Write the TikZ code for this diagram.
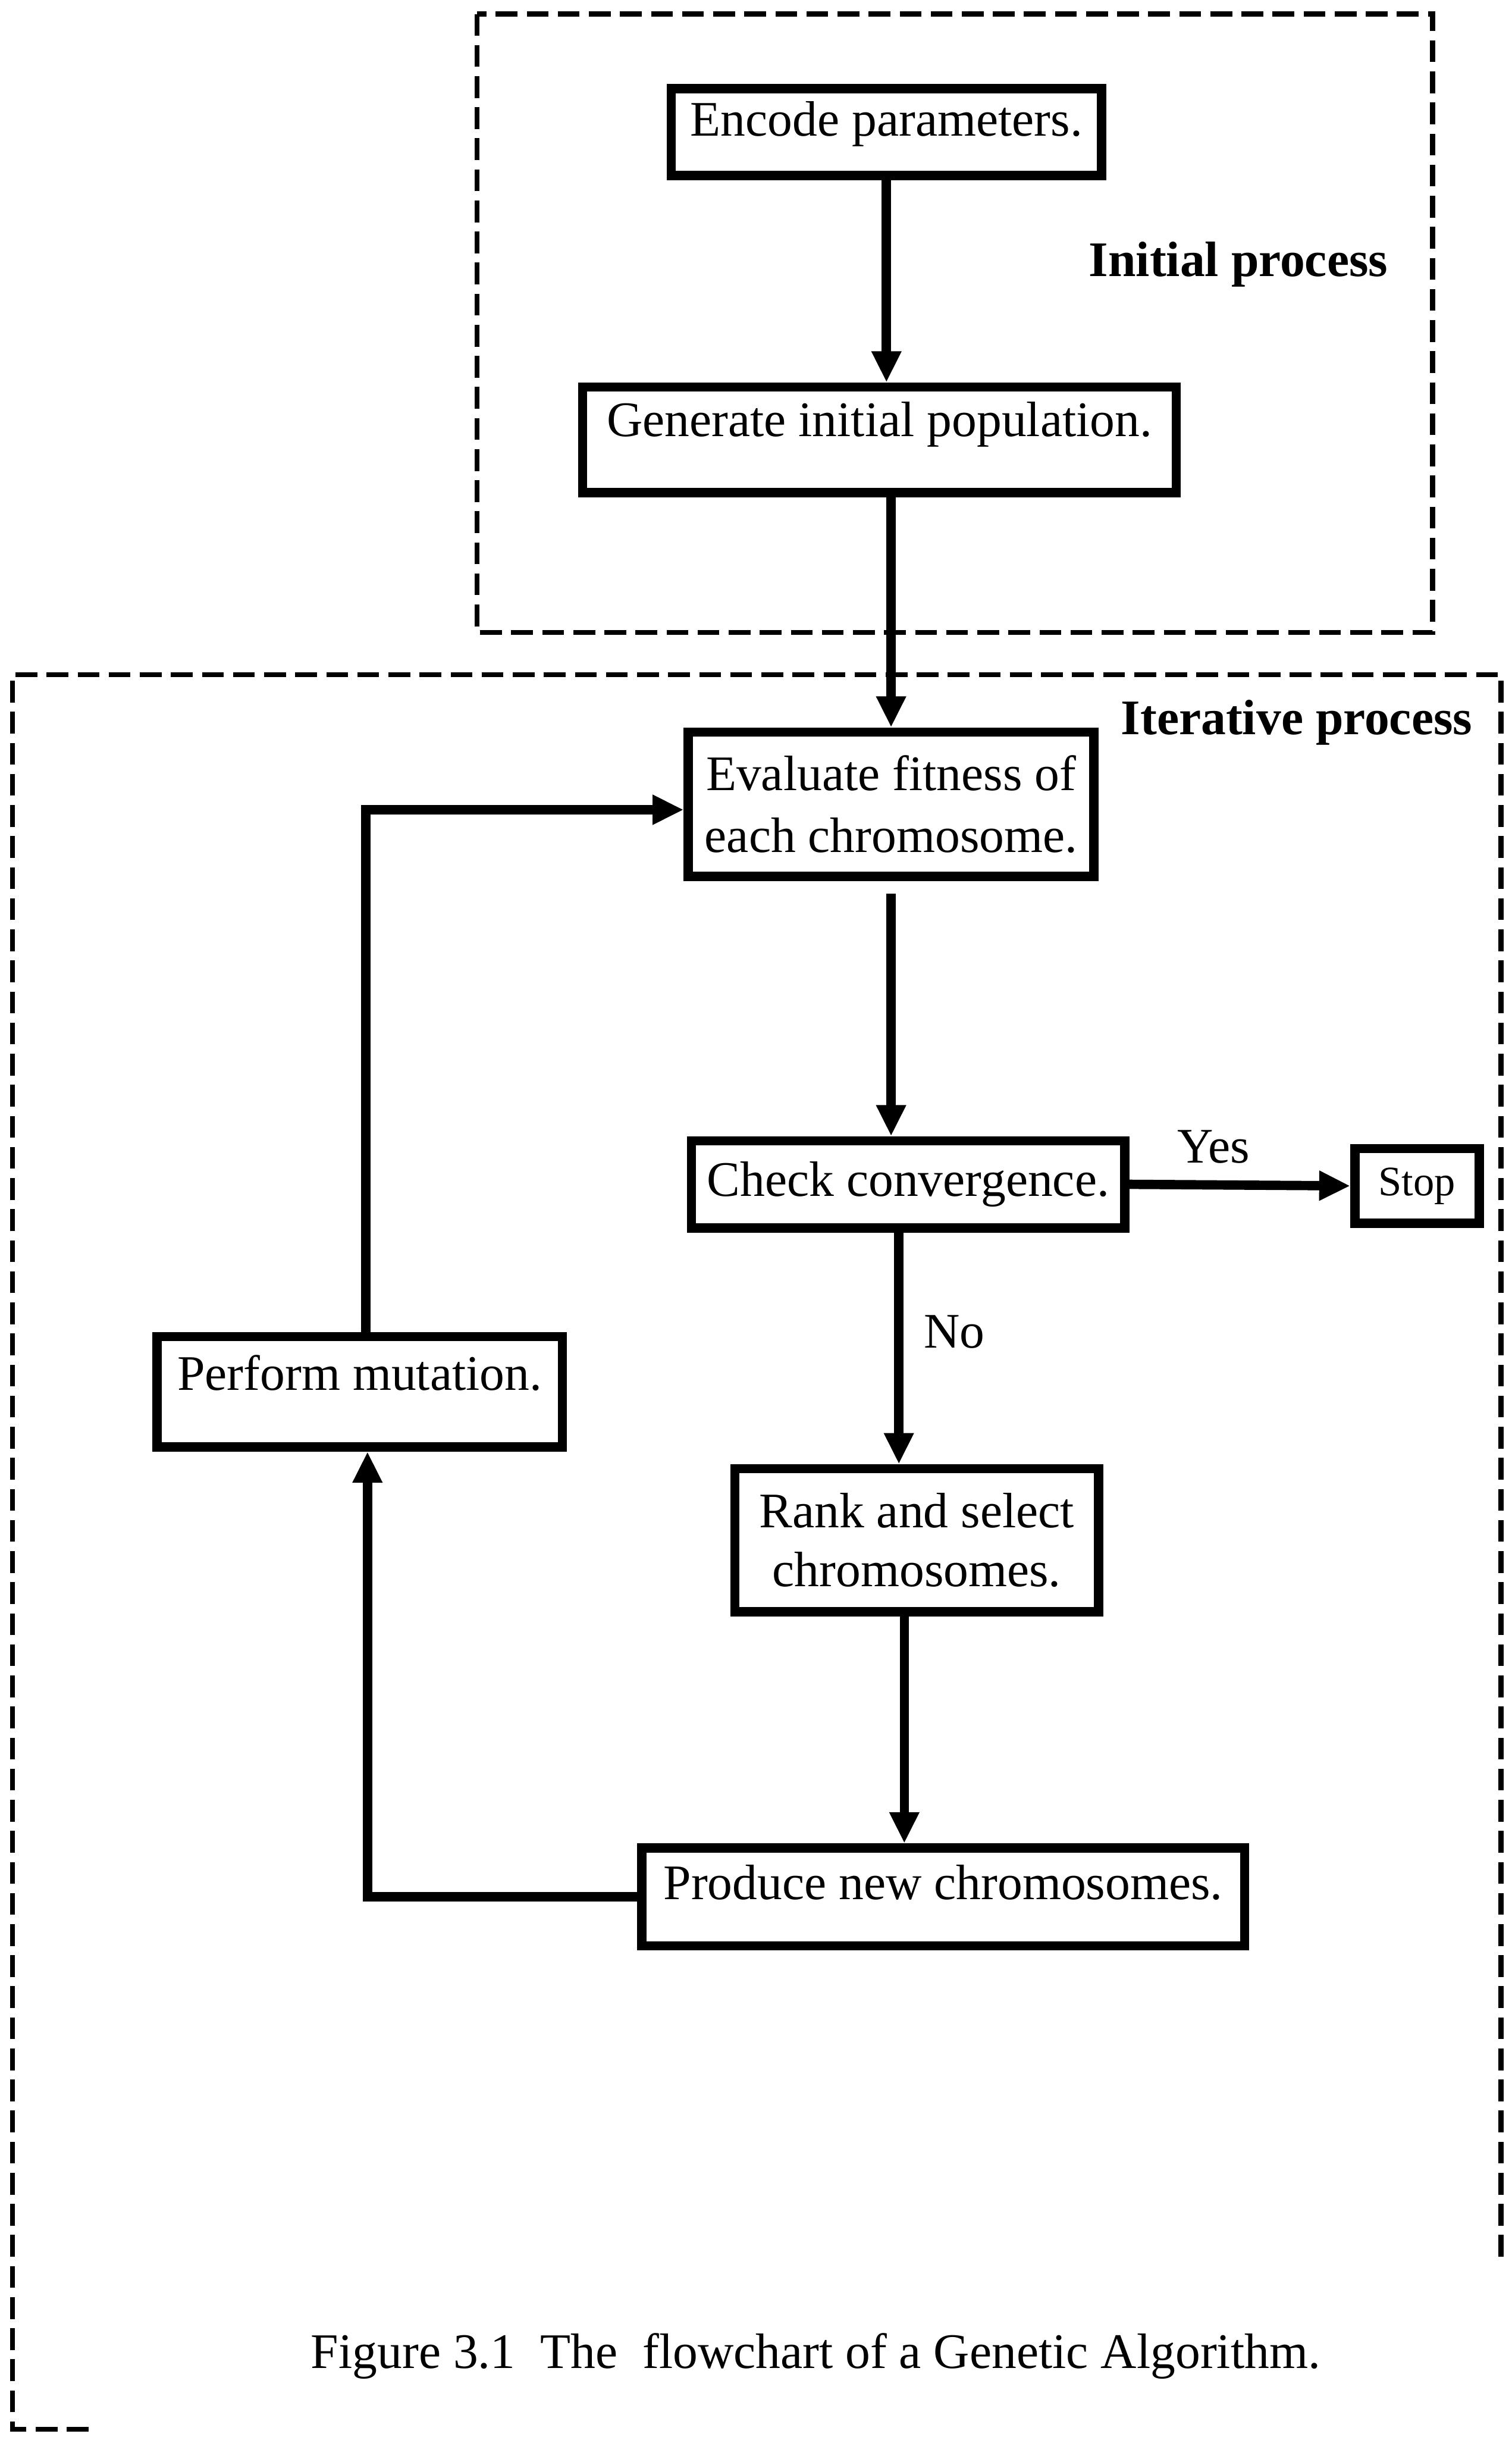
\documentclass[tikz,border=0pt]{standalone}
\usepackage{fontspec}
\setmainfont{Liberation Serif}
\usetikzlibrary{arrows.meta}
\begin{document}
\begin{tikzpicture}[x=0.5pt,y=-0.5pt,
  box/.style={draw, line width=3pt, inner sep=0pt, align=center, font=\fontsize{16}{20}\selectfont},
  arr/.style={line width=3pt, -{Triangle[length=10pt,width=9pt]}},
  dashbox/.style={line width=1.6pt, dash pattern=on 7pt off 3pt},
  lbl/.style={font=\fontsize{16}{19}\selectfont, inner sep=0pt},
  ttl/.style={font=\fontsize{16}{19}\selectfont\bfseries, inner sep=0pt}]
\useasboundingbox (0,0) rectangle (973,1568);
% dashed frames
\draw[dashbox] (307,9) rectangle (922,407);
\draw[dashbox] (57,1563) -- (8,1563) -- (8,434) -- (966,434) -- (966,1455);
% boxes
\node[box, minimum width=138.5pt, minimum height=28pt, text depth=8.5pt] (enc) at (570.5,85) {Encode parameters.};
\node[box, minimum width=191pt, minimum height=34pt, text depth=13.5pt] (gen) at (566,283) {Generate initial population.};
\node[box, minimum width=130.5pt, minimum height=46.5pt] (eval) at (573.5,517.5) {Evaluate fitness of\\each chromosome.};
\node[box, minimum width=139.5pt, minimum height=28pt] (chk) at (584.5,762) {Check convergence.};
\node[box, minimum width=40pt, minimum height=24pt, font=\fontsize{13.5}{16}\selectfont] (stop) at (912,763) {Stop};
\node[box, minimum width=117pt, minimum height=46pt, font=\fontsize{16}{19}\selectfont] (rank) at (590,991) {Rank and select\\chromosomes.};
\node[box, minimum width=194pt, minimum height=31.5pt, text depth=9.5pt] (prod) at (607,1220.5) {Produce new chromosomes.};
\node[box, minimum width=130.5pt, minimum height=35.5pt, text depth=12.5pt] (perf) at (231.5,895.5) {Perform mutation.};
% labels
\node[ttl] (init) at (797,170) {Initial process};
\node[ttl] (iter) at (834.5,465) {Iterative process};
\node[lbl] (cap) at (525,1516) {Figure 3.1\ \ The\ \ flowchart of a Genetic Algorithm.};
% connectors
\draw[arr] (enc.south) -- (enc.south |- gen.north);
\draw[arr] (eval.north |- gen.south) -- (eval.north);
\draw[arr] ([yshift=-4pt]eval.south) -- (eval.south |- chk.north);
\draw[arr] (chk.east) -- node[lbl, above=5.5pt, pos=0.38] (yes) {Yes} (stop.west);
\draw[arr] ([xshift=-3pt]chk.south) -- node[lbl, right=6.5pt, pos=0.43] (no) {No} ([xshift=-3pt]chk.south |- rank.north);
\draw[arr] ([xshift=-4pt]rank.south) -- ([xshift=-4pt]rank.south |- prod.north);
\draw[arr] (prod.west) -| ([xshift=2.5pt]perf.south);
\draw[arr] ([xshift=2pt]perf.north) |- ([yshift=-1.75pt]eval.west);
\end{tikzpicture}
\end{document}
